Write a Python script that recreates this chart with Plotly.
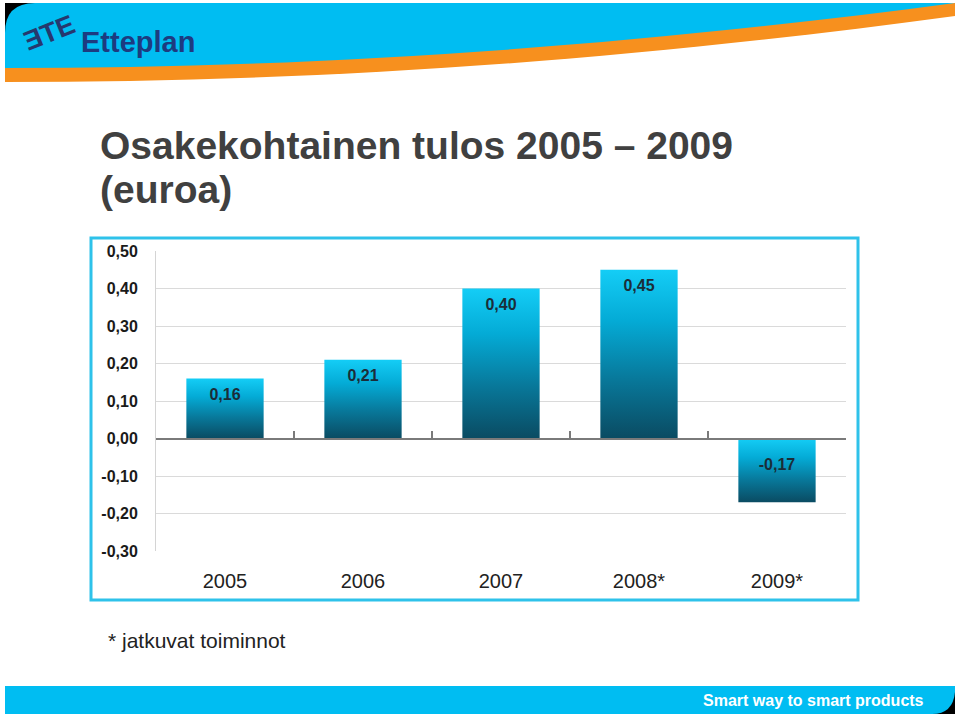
import plotly.graph_objects as go

# ---------------- data ----------------
categories = ["2005", "2006", "2007", "2008*", "2009*"]
eps = [0.16, 0.21, 0.40, 0.45, -0.17]
y_ticks = [0.50, 0.40, 0.30, 0.20, 0.10, 0.00, -0.10, -0.20, -0.30]
title_line1 = "Osakekohtainen tulos 2005 – 2009"
title_line2 = "(euroa)"
footnote = "* jatkuvat toiminnot"
brand = "Etteplan"
slogan = "Smart way to smart products"

# ---------------- geometry helpers ----------------
W, H = 960, 716
def px(x):
    return x / W
def py(y):
    return 1 - y / H

def fmt(v):
    return f"{v:.2f}".replace(".", ",")

Y_RANGE = [-0.3, 0.5]
X_RANGE = [-0.5, len(categories) - 0.5]
BAR_HALF = 0.28
XDOM = [px(156), px(846)]
YDOM = [py(551), py(251)]
zero_pos = YDOM[0] + (0 - Y_RANGE[0]) / (Y_RANGE[1] - Y_RANGE[0]) * (YDOM[1] - YDOM[0])

GRAD = [[0, "#0a4b62"], [0.35, "#08789a"], [0.7, "#04abd6"], [1, "#14cdf6"]]
CYAN = "#00bdf2"
ORANGE = "#f7901e"
FONT = "Liberation Sans, Arial, sans-serif"

fig = go.Figure()

for i, (c, v) in enumerate(zip(categories, eps)):
    fig.add_trace(go.Scatter(
        x=[i - BAR_HALF, i + BAR_HALF, i + BAR_HALF, i - BAR_HALF, i - BAR_HALF],
        y=[0, 0, v, v, 0],
        mode="lines", fill="toself",
        line=dict(width=0, color="rgba(0,0,0,0)"),
        fillgradient=dict(type="vertical", colorscale=GRAD),
        hoverinfo="skip", showlegend=False, name=c,
    ))

# value labels (on the zero-line axis x2 so that axis is drawn)
fig.add_trace(go.Scatter(
    x=list(range(len(categories))),
    y=[max(v, 0) for v in eps],
    text=[fmt(v) for v in eps],
    mode="markers+text",
    textposition="bottom center",
    marker=dict(size=[13 if v > 0 else 29 for v in eps], opacity=0),
    textfont=dict(family=FONT, size=16, color="#1b2d38", weight="bold"),
    xaxis="x2", yaxis="y", hoverinfo="skip", showlegend=False, name="EPS",
))

annotations = [
    dict(x=px(98), y=py(145), xref="paper", yref="paper", xanchor="left", yanchor="middle",
         text=title_line1, showarrow=False,
         font=dict(family=FONT, size=39, color="#404040", weight="bold")),
    dict(x=px(98), y=py(189), xref="paper", yref="paper", xanchor="left", yanchor="middle",
         text=title_line2, showarrow=False,
         font=dict(family=FONT, size=39, color="#404040", weight="bold")),
    dict(x=px(106), y=py(640), xref="paper", yref="paper", xanchor="left", yanchor="middle",
         text=footnote, showarrow=False,
         font=dict(family=FONT, size=21, color="#222222")),
    dict(x=px(79), y=py(42), xref="paper", yref="paper", xanchor="left", yanchor="middle",
         text=brand, showarrow=False,
         font=dict(family=FONT, size=29, color="#1d3b80", weight="bold")),
    dict(x=px(49), y=py(33), xref="paper", yref="paper", xanchor="center", yanchor="middle",
         text="ƎTE", showarrow=False, textangle=-22,
         font=dict(family=FONT, size=27, color="#26386e", weight="bold")),
    dict(x=px(926), y=py(700), xref="paper", yref="paper", xanchor="right", yanchor="middle",
         text=slogan, showarrow=False,
         font=dict(family=FONT, size=16, color="#ffffff", weight="bold")),
]

def P(x, y):
    return f"{px(x):.5f},{py(y):.5f}"

shapes = [
    dict(type="rect", xref="paper", yref="paper", x0=px(5), x1=px(45), y0=py(40), y1=py(3),
         fillcolor="#000000", line=dict(width=0), layer="above"),
    dict(type="path", xref="paper", yref="paper", layer="above",
         path=f"M {P(5,60)} L {P(955,3)} L {P(955,16)} C {P(600,64)} {P(300,82)} {P(5,82)} Z",
         fillcolor=ORANGE, line=dict(width=0)),
    dict(type="path", xref="paper", yref="paper", layer="above",
         path=f"M {P(5,68)} L {P(5,33)} Q {P(5,3)} {P(35,3)} L {P(955,3)} C {P(600,50)} {P(300,68)} {P(5,68)} Z",
         fillcolor=CYAN, line=dict(width=0)),
    dict(type="rect", xref="paper", yref="paper", x0=px(925), x1=px(955), y0=py(714), y1=py(690),
         fillcolor="#000000", line=dict(width=0), layer="above"),
    dict(type="path", xref="paper", yref="paper", layer="above",
         path=f"M {P(5,686)} L {P(955,686)} L {P(955,692)} Q {P(953,714)} {P(932,714)} L {P(5,714)} Z",
         fillcolor=CYAN, line=dict(width=0)),
    dict(type="rect", xref="paper", yref="paper", x0=px(91), x1=px(858), y0=py(600), y1=py(238),
         line=dict(color="#2ec2ea", width=3), fillcolor="rgba(0,0,0,0)", layer="below"),
]

fig.update_layout(
    width=W, height=H,
    margin=dict(l=0, r=0, t=0, b=0),
    paper_bgcolor="white", plot_bgcolor="white",
    showlegend=False,
    annotations=annotations,
    shapes=shapes,
    xaxis=dict(domain=XDOM, range=X_RANGE, tickmode="array",
               tickvals=list(range(len(categories))), ticktext=categories,
               showgrid=False, zeroline=False, showline=False, ticks="",
               tickfont=dict(family=FONT, size=20, color="#222222"),
               ticklabelstandoff=16, automargin=False, fixedrange=True),
    xaxis2=dict(domain=XDOM, range=X_RANGE, overlaying="x", anchor="free", position=zero_pos,
                side="bottom", tickmode="array",
                tickvals=[k - 0.5 for k in range(len(categories) + 1)],
                ticks="inside", ticklen=7, tickwidth=2, tickcolor="#7a7a7a",
                showline=True, linecolor="#7a7a7a", linewidth=2,
                showticklabels=False, showgrid=False, zeroline=False,
                automargin=False, fixedrange=True),
    yaxis=dict(domain=YDOM, range=Y_RANGE, tickmode="array", tickvals=y_ticks,
               ticktext=[fmt(v) for v in y_ticks],
               showgrid=True, gridcolor="#dadada", gridwidth=1,
               showline=True, linecolor="#d4d4d4", linewidth=1,
               zeroline=False, ticks="",
               tickfont=dict(family=FONT, size=16, color="#1a1a1a", weight="bold"),
               ticklabelstandoff=14, automargin=False, fixedrange=True),
)

fig.write_html("out.html", config={"displayModeBar": False},
               post_script="document.body.style.margin='0px';document.body.style.padding='0px';")
